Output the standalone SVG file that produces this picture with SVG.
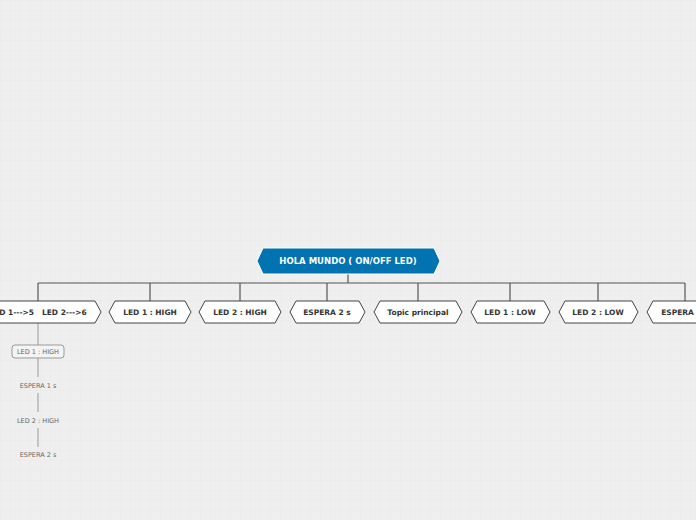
<svg xmlns="http://www.w3.org/2000/svg" width="696" height="520" viewBox="0 0 696 520">
<style>
.n{fill:#fff;stroke:#444;stroke-width:1}
.t{font-family:"DejaVu Sans",sans-serif;font-size:7.5px;font-weight:bold;fill:#333;text-anchor:middle}
.s{font-family:"DejaVu Sans",sans-serif;font-size:6.5px;fill:#666;text-anchor:middle}
.c{stroke:#555;stroke-width:1.2;fill:none}
.sc{stroke:#999;stroke-width:1;fill:none}
</style>
<defs>
<pattern id="g" width="10" height="10" patternUnits="userSpaceOnUse">
<path d="M10 0H0V10" fill="none" stroke="#e2e2e2" stroke-width="0.6"/>
</pattern>
</defs>
<rect width="696" height="520" fill="#efefef"/>
<rect width="696" height="520" fill="url(#g)"/>
<g id="connectors">
<path class="c" d="M348 274V283M38 283H685M38 283V301M150 283V301M240 283V301M327 283V301M418 283V301M510 283V301M598 283V301M685 283V301"/>
<path class="sc" d="M38 323V345M38 358V377M38 393V412M38 428V447"/>
</g>
<g id="root"><path d="M263 248H434L440 261L434 274H263L257 261Z" fill="#0073b0" stroke="#fff" stroke-width="1"/>
<text x="348" y="264" font-family="DejaVu Sans,sans-serif" font-size="8.5" font-weight="bold" fill="#fff" text-anchor="middle">HOLA MUNDO ( ON/OFF LED)</text></g>
<g id="n1"><path class="n" d="M-20 301H95L101 312L95 323H-20L-26 312Z"/><text class="t" x="38" y="315" xml:space="preserve">LED 1---&gt;5   LED 2---&gt;6</text></g>
<g id="n2"><path class="n" d="M115 301H185L191 312L185 323H115L109 312Z"/><text class="t" x="150" y="315">LED 1 : HIGH</text></g>
<g id="n3"><path class="n" d="M205 301H275L281 312L275 323H205L199 312Z"/><text class="t" x="240" y="315">LED 2 : HIGH</text></g>
<g id="n4"><path class="n" d="M296 301H359L365 312L359 323H296L290 312Z"/><text class="t" x="327" y="315">ESPERA 2 s</text></g>
<g id="n5"><path class="n" d="M380 301H456L462 312L456 323H380L374 312Z"/><text class="t" x="418" y="315">Topic principal</text></g>
<g id="n6"><path class="n" d="M477 301H544L550 312L544 323H477L471 312Z"/><text class="t" x="510" y="315">LED 1 : LOW</text></g>
<g id="n7"><path class="n" d="M565 301H632L638 312L632 323H565L559 312Z"/><text class="t" x="598" y="315">LED 2 : LOW</text></g>
<g id="n8"><path class="n" d="M653 301H717L723 312L717 323H653L647 312Z"/><text class="t" x="685" y="315">ESPERA 2 s</text></g>
<g id="s1"><rect x="12" y="345" width="52" height="13" rx="3" fill="#f4f4f4" stroke="#999"/><text class="s" x="38" y="354">LED 1 : HIGH</text></g>
<g id="s2"><text class="s" x="38" y="388">ESPERA 1 s</text></g>
<g id="s3"><text class="s" x="38" y="423">LED 2 : HIGH</text></g>
<g id="s4"><text class="s" x="38" y="457">ESPERA 2 s</text></g>
</svg>
